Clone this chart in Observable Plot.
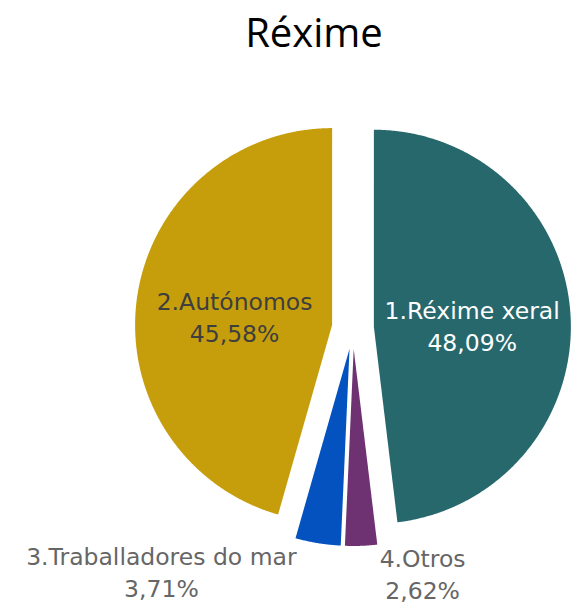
<!DOCTYPE html>
<html><head><meta charset="utf-8">
<script src="https://cdn.jsdelivr.net/npm/d3@7"></script>
<script src="https://cdn.jsdelivr.net/npm/@observablehq/plot@0.6"></script>
<style>
body{margin:0;background:#fff;}
#title{width:571px;height:70px;box-sizing:border-box;padding-left:57px;text-align:center;font-family:"Open Sans",sans-serif;font-size:40px;line-height:64px;color:#000;}
#chart svg{display:block;}
</style>
</head><body>
<div id="title">Réxime</div>
<div id="chart"></div>
<script>
const categories = ["1.Réxime xeral", "2.Autónomos", "3.Traballadores do mar", "4.Otros"];
const values = [48.09, 45.58, 3.71, 2.62];
const valueLabels = ["48,09%", "45,58%", "3,71%", "2,62%"];
const colors = ["#27686D", "#C69E0C", "#0352BF", "#6E3272"];
const clockwiseOrder = [0, 3, 2, 1];

const W = 571, H = 537;
const cx = 352.4, cy = 257.5, R = 197;   // pie centre & radius in pixels
const explode = 21 / R;                   // offset of each slice, in radius units

const arcs = d3.pie().sort(null).value(i => values[i])(clockwiseOrder);

const slicePts = [];
const info = {};
for (const a of arcs) {
  const i = a.data;
  const mid = (a.startAngle + a.endAngle) / 2;
  const ox = explode * Math.sin(mid), oy = explode * Math.cos(mid);
  slicePts.push({cat: categories[i], x: ox, y: oy});
  const n = Math.max(8, Math.ceil((a.endAngle - a.startAngle) / 0.005));
  for (let k = 0; k <= n; k++) {
    const t = a.startAngle + (a.endAngle - a.startAngle) * k / n;
    slicePts.push({cat: categories[i], x: ox + Math.sin(t), y: oy + Math.cos(t)});
  }
  info[i] = {
    inner: {x: ox + 0.5 * Math.sin(mid), y: oy + 0.5 * Math.cos(mid)},
    outer: {x: ox + Math.sin(mid), y: oy + Math.cos(mid)}
  };
}

const font = {fontFamily: "DejaVu Sans, Verdana, sans-serif", fontSize: 23.5, lineHeight: 1.36};
function label(i, pos, fill, dx, dy) {
  return Plot.text([{...info[i][pos], t: categories[i] + "\n" + valueLabels[i]}],
    {x: "x", y: "y", text: "t", fill, dx, dy, textAnchor: "middle", ...font});
}

const chart = Plot.plot({
  width: W, height: H,
  margin: 0,
  x: {domain: [-cx / R, (W - cx) / R], axis: null},
  y: {domain: [-(H - cy) / R, cy / R], axis: null},
  color: {domain: categories, range: colors},
  marks: [
    Plot.line(slicePts, {x: "x", y: "y", z: "cat", fill: "cat", stroke: null, curve: "linear-closed"}),
    label(0, "inner", "#FFFFFF", 0, 4),
    label(1, "inner", "#3E3E3E", 0, 4),
    label(2, "outer", "#666666", -156.5, 28),
    label(3, "outer", "#666666", 61.5, 27)
  ]
});
document.getElementById("chart").appendChild(chart);
</script>
</body></html>
